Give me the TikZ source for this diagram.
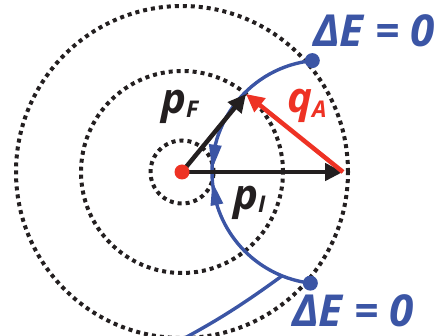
\documentclass[tikz,border=0pt]{standalone}
\usepackage{fontspec}
\newfontfamily\lbl{Open Sans}
\newcommand\subfnt{\fontsize{23}{23}\selectfont}
\usetikzlibrary{arrows.meta,calc}
\definecolor{eblue}{RGB}{59,85,165}
\definecolor{ered}{RGB}{238,50,36}
\definecolor{eblack}{RGB}{35,31,32}
\begin{document}
\begin{tikzpicture}[x=1pt,y=1pt,
  orbit/.style={draw=eblack, line width=4pt, dash pattern=on 4pt off 4pt},
  vec/.style={line width=4.5pt, -{Triangle[length=18pt,width=17pt]}},
  path/.style={draw=eblue, line width=3.4pt},
  big/.style={inner sep=0pt, anchor=base west, font=\lbl\bfseries\itshape\fontsize{42}{42}\selectfont},
  elabel/.style={inner sep=0pt, anchor=base west, text=eblue, font=\lbl\bfseries\itshape\fontsize{44}{44}\selectfont}]
\useasboundingbox (0,0) rectangle (435,336);
\clip (0,0) rectangle (435,336);
\coordinate (C) at (182,164);
\coordinate (A) at (324,164);
\coordinate (Pi) at (343,164);
\coordinate (Pf) at (246,242);
% orbits
\draw[orbit] (C) circle[radius=166pt];
\draw[orbit] (C) circle[radius=101pt];
\draw[orbit] (C) circle[radius=31.5pt];
% blue trajectory
\draw[path] (A) ++(96:112pt) coordinate (Top) arc[start angle=96, end angle=263, radius=112pt] coordinate (Bot);
\coordinate (B) at ($(A)+(248:112pt)$);
\coordinate (Bend) at (170,-10);
\draw[path] (B) to[bend left=4] (Bend);
\fill[eblue] (Top) circle[radius=7.5pt];
\fill[eblue] (Bot) circle[radius=7.5pt];
% flow arrowheads on the trajectory
\coordinate (t1) at ($(A)+(178.5:112pt)$);
\coordinate (b1) at ($(A)+(166:112pt)$);
\coordinate (t2) at ($(A)+(185.1:112pt)$);
\coordinate (b2) at ($(A)+(197:112pt)$);
\fill[eblue] (t1) -- ($(b1)!6.5pt!90:(t1)$) -- ($(b1)!6.5pt!-90:(t1)$) -- cycle;
\fill[eblue] (t2) -- ($(b2)!6.5pt!90:(t2)$) -- ($(b2)!6.5pt!-90:(t2)$) -- cycle;
% vectors
\draw[vec, draw=eblack, fill=eblack] (C) -- (Pi);
\draw[vec, draw=eblack, fill=eblack] (C) -- (Pf);
\draw[vec, draw=ered, fill=ered] (Pi) -- (Pf);
\fill[ered] (C) circle[radius=7.5pt];
% labels
\node[big, text=eblack] (pF) at (161,222) {p{\subfnt\raisebox{-4pt}{F}}};
\node[big, text=eblack] (pI) at (233,126) {p{\subfnt\raisebox{-3pt}{I}}};
\node[big, text=ered] (qA) at (287,223) {q{\subfnt\raisebox{-5pt}{A}}};
\node[elabel] (E1) at (313,289) {ΔE = 0};
\node[elabel] (E2) at (292,9) {ΔE = 0};
\end{tikzpicture}
\end{document}
